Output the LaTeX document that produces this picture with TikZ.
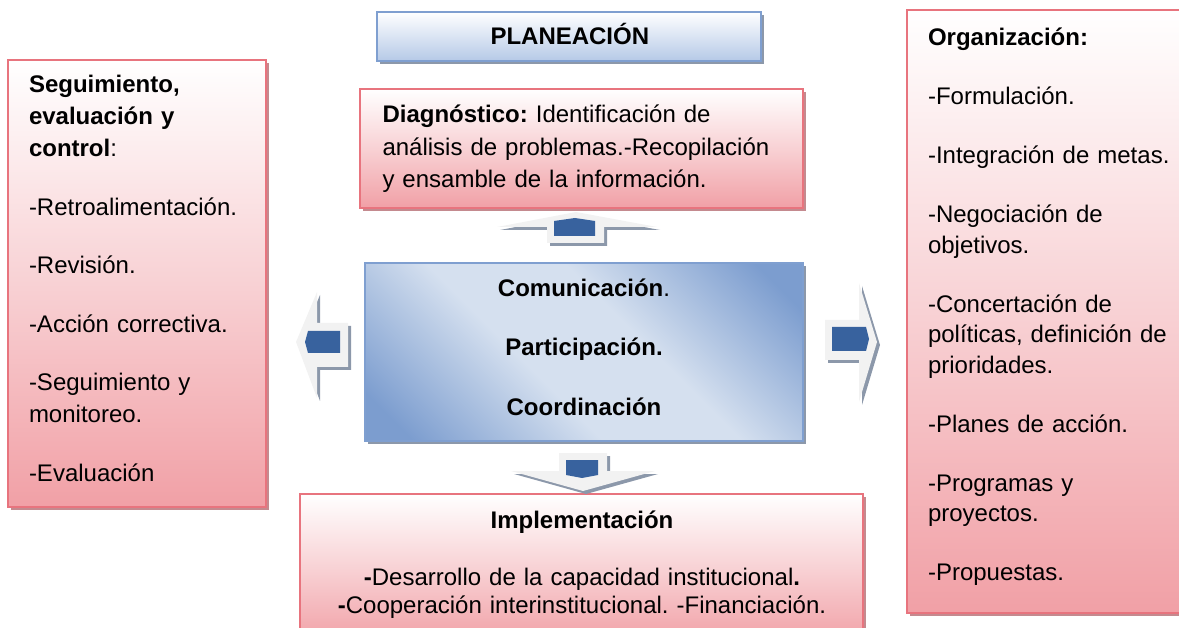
\documentclass[tikz,border=0pt]{standalone}
\usepackage{fontspec}
\setmainfont{Liberation Sans}
\usetikzlibrary{shadows}
\frenchspacing
\definecolor{pinkline}{HTML}{E8747E}
\definecolor{pinkbot}{HTML}{F1A0A6}
\definecolor{pinkmid}{HTML}{F8D1D4}
\definecolor{pinkshadow}{HTML}{C48A8F}
\definecolor{blueline}{HTML}{7F9FD0}
\definecolor{bluebot}{HTML}{B5C9E7}
\definecolor{grayshadow}{HTML}{8C98AA}
\definecolor{cdark}{HTML}{7C9DCF}
\definecolor{clight}{HTML}{D5E0EF}
\definecolor{arrlight}{HTML}{F2F2F2}
\definecolor{arrcoreblue}{HTML}{38629E}
\pgfdeclarehorizontalshading{ctrshade}{100bp}{color(0bp)=(cdark); color(20bp)=(cdark); color(42bp)=(clight); color(58bp)=(clight); color(80bp)=(cdark); color(100bp)=(cdark)}
\tikzset{
  pinkbox/.style={draw=pinkline, line width=2pt, top color=white, bottom color=pinkbot, middle color=pinkmid,
    inner sep=0pt, drop shadow={shadow xshift=3pt, shadow yshift=-3pt, fill=pinkshadow, opacity=1}},
  titlebox/.style={draw=blueline, line width=2pt, top color=white, bottom color=bluebot,
    inner sep=0pt, drop shadow={shadow xshift=3pt, shadow yshift=-3pt, fill=grayshadow, opacity=1}},
  centerbox/.style={draw=blueline, line width=2pt, shading=ctrshade, shading angle=45,
    inner sep=0pt, drop shadow={shadow xshift=3pt, shadow yshift=-3pt, fill=grayshadow, opacity=1}},
  txt/.style={inner sep=0pt, outer sep=0pt, anchor=base west, align=left},
  ctxt/.style={inner sep=0pt, outer sep=0pt, anchor=base, align=center},
  arrbody/.style={fill=arrlight},
  arrshadow/.style={fill=grayshadow},
  arrcore/.style={fill=arrcoreblue},
}
\begin{document}
\begin{tikzpicture}[x=1pt,y=-1pt]
\useasboundingbox (0,0) rectangle (1179,628);

% ---------- boxes ----------
\node[pinkbox, minimum width=258pt, minimum height=447pt] (seg) at (137,283.5) {};
\node[pinkbox, minimum width=290pt, minimum height=603pt] (org) at (1052,311.5) {};
\node[pinkbox, minimum width=443pt, minimum height=119pt] (diag) at (581.5,148.5) {};
\node[pinkbox, minimum width=563pt, minimum height=150pt] (impl) at (581.5,569) {};
\node[titlebox, minimum width=384pt, minimum height=49pt] (plan) at (569,36.5) {};
\node[centerbox, minimum width=438pt, minimum height=178pt] (ctr) at (584,352) {};

% ---------- texts ----------
\node[txt, text width=250pt, font=\fontsize{24pt}{31pt}\selectfont] (plant) at (490.5,45) {\textbf{PLANEACIÓN}};

\node[txt, text width=430pt, font=\fontsize{24pt}{32.5pt}\selectfont] (diagt) at (382.5,123)
  {\textbf{Diagnóstico:} Identificación de\\análisis de problemas.-Recopilación\\y ensamble de la información.};

\node[txt, text width=245pt, font=\fontsize{24pt}{32pt}\selectfont] (segt) at (29,93)
  {\textbf{Seguimiento,}\\\textbf{evaluación y}\\\textbf{control}:\\[26.5pt]
   -Retroalimentación.\\[26.5pt]
   -Revisión.\\[26.5pt]
   -Acción correctiva.\\[26.5pt]
   -Seguimiento y\\monitoreo.\\[26.5pt]
   -Evaluación};

\node[txt, text width=255pt, font=\fontsize{24pt}{30.5pt}\selectfont] (orgt) at (928,46)
  {\textbf{Organización:}\\[28.5pt]
   -Formulación.\\[28.5pt]
   -Integración de metas.\\[28.5pt]
   -Negociación de\\objetivos.\\[28.5pt]
   -Concertación de\\políticas, definición de\\prioridades.\\[28.5pt]
   -Planes de acción.\\[28.5pt]
   -Programas y\\proyectos.\\[28.5pt]
   -Propuestas.};

\node[ctxt, text width=438pt, font=\fontsize{24pt}{59.5pt}\selectfont] (ctrt) at (584,296.5)
  {\textbf{Comunicación}.\\\textbf{Participación.}\\\textbf{Coordinación}};

\node[ctxt, text width=560pt, font=\fontsize{24pt}{27.5pt}\selectfont] (implt) at (582,528.5)
  {\textbf{Implementación}\\[30pt]
   \textbf{-}Desarrollo de la capacidad institucional\textbf{.}\\
   \textbf{-}Cooperación interinstitucional. -Financiación.};

% ---------- block arrows ----------
% up arrow (diagnostico <- centro)
\foreach \s/\d in {arrshadow/3, arrbody/0}{
  \fill[\s, shift={(\d,\d)}] (576,212) -- (657,227) -- (604,227) -- (604,243) -- (547,243) -- (547,227) -- (497,227) -- cycle;
}
\fill[arrcore] (554,236) -- (554,221) -- (575,218) -- (595,221) -- (595,236) -- cycle;

% down arrow (centro -> implementacion)
\foreach \s/\d in {arrshadow/3, arrbody/0}{
  \fill[\s, shift={(\d,\d)}] (559,453) -- (607,453) -- (607,471) -- (655,471) -- (583,491) -- (511,471) -- (559,471) -- cycle;
}
\fill[arrcore] (566,460) -- (598,460) -- (598,475) -- (582,478) -- (566,475) -- cycle;

% left arrow (seguimiento <- centro)
\foreach \s/\d in {arrshadow/3, arrbody/0}{
  \fill[\s, shift={(\d,\d)}] (296,342) -- (317,292) -- (317,323) -- (348,323) -- (348,367) -- (317,367) -- (317,398) -- cycle;
}
\fill[arrcore] (308,331) -- (340,331) -- (340,353) -- (308,353) -- (305,342) -- cycle;

% right arrow (centro -> organizacion)
\foreach \s/\d in {arrshadow/3, arrbody/0}{
  \fill[\s, shift={(\d,\d)}] (825,320) -- (859,320) -- (859,283) -- (877,342) -- (859,402) -- (859,360) -- (825,360) -- cycle;
}
\fill[arrcore] (832,327) -- (866,327) -- (869,339) -- (866,351) -- (832,351) -- cycle;
\end{tikzpicture}
\end{document}
